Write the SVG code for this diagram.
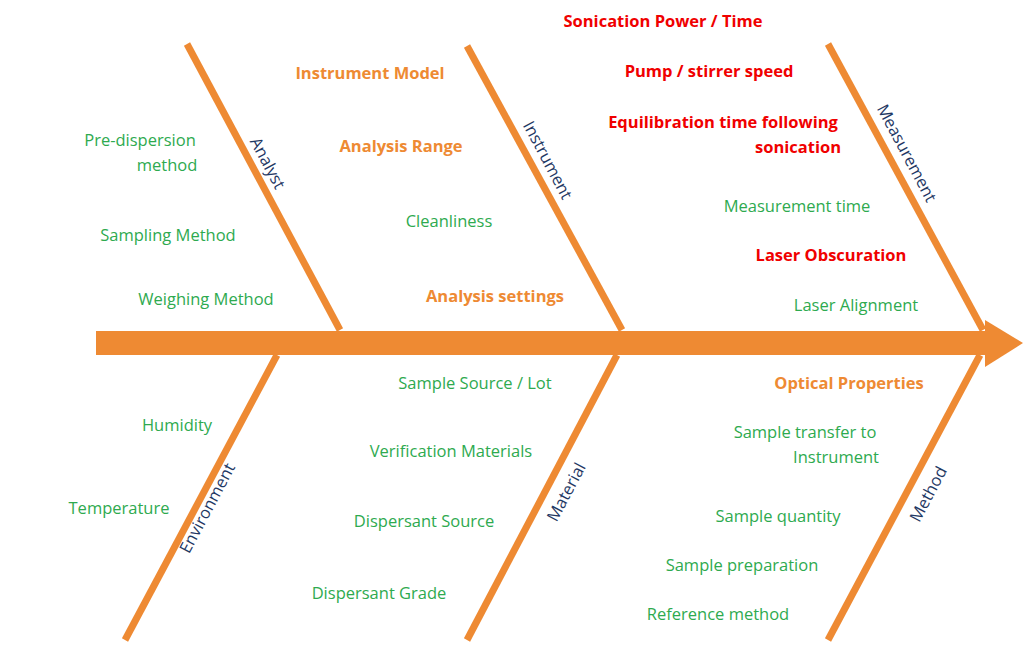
<svg xmlns="http://www.w3.org/2000/svg" width="1024" height="645" viewBox="0 0 1024 645">
<style>
text{font-family:"Open Sans","Liberation Sans",sans-serif;font-size:16.5px;text-anchor:middle}
.g{fill:#2eaa4f}.o{fill:#ee8a33;font-weight:bold}.r{fill:#f00000;font-weight:bold}.b{fill:#1f3864}
.bone{stroke:#ee8a33;stroke-width:7;fill:none}
</style>
<rect width="1024" height="645" fill="#fff"/>
<g id="connectors">
<rect x="96" y="331" width="892" height="24" fill="#ee8a33"/>
<polygon points="985,320 1023,343 985,367" fill="#ee8a33"/>
<line class="bone" x1="187" y1="44" x2="340" y2="330"/>
<line class="bone" x1="467" y1="46" x2="622" y2="330"/>
<line class="bone" x1="828" y1="44" x2="983" y2="330"/>
<line class="bone" x1="125" y1="640" x2="277" y2="355"/>
<line class="bone" x1="467" y1="640" x2="617" y2="355"/>
<line class="bone" x1="828" y1="640" x2="980" y2="355"/>
</g>
<g id="analyst"><text class="b" transform="translate(268,163) rotate(62)" dy="6">Analyst</text>
<text class="g" x="140" y="146">Pre-dispersion</text><text class="g" x="167" y="171">method</text>
<text class="g" x="168" y="241">Sampling Method</text><text class="g" x="206" y="305">Weighing Method</text></g>
<g id="instrument"><text class="b" transform="translate(548,160) rotate(62)" dy="6">Instrument</text>
<text class="o" x="370" y="79">Instrument Model</text><text class="o" x="401" y="152">Analysis Range</text>
<text class="g" x="449" y="227">Cleanliness</text><text class="o" x="495" y="302">Analysis settings</text></g>
<g id="measurement"><text class="b" transform="translate(907,153) rotate(62)" dy="6">Measurement</text>
<text class="r" x="663" y="27">Sonication Power / Time</text><text class="r" x="709" y="77">Pump / stirrer speed</text>
<text class="r" x="723" y="128">Equilibration time following</text><text class="r" x="798" y="153">sonication</text>
<text class="g" x="797" y="212">Measurement time</text><text class="r" x="831" y="261">Laser Obscuration</text>
<text class="g" x="856" y="311">Laser Alignment</text></g>
<g id="environment"><text class="b" transform="translate(207,508) rotate(-62)" dy="6">Environment</text>
<text class="g" x="177" y="431">Humidity</text><text class="g" x="119" y="514">Temperature</text></g>
<g id="material"><text class="b" transform="translate(566,492) rotate(-62)" dy="6">Material</text>
<text class="g" x="475" y="389">Sample Source / Lot</text><text class="g" x="451" y="457">Verification Materials</text>
<text class="g" x="424" y="527">Dispersant Source</text><text class="g" x="379" y="599">Dispersant Grade</text></g>
<g id="method"><text class="b" transform="translate(928,494) rotate(-62)" dy="6">Method</text>
<text class="o" x="849" y="389">Optical Properties</text><text class="g" x="805" y="438">Sample transfer to</text>
<text class="g" x="836" y="463">Instrument</text><text class="g" x="778" y="522">Sample quantity</text>
<text class="g" x="742" y="571">Sample preparation</text><text class="g" x="718" y="620">Reference method</text></g>
</svg>
